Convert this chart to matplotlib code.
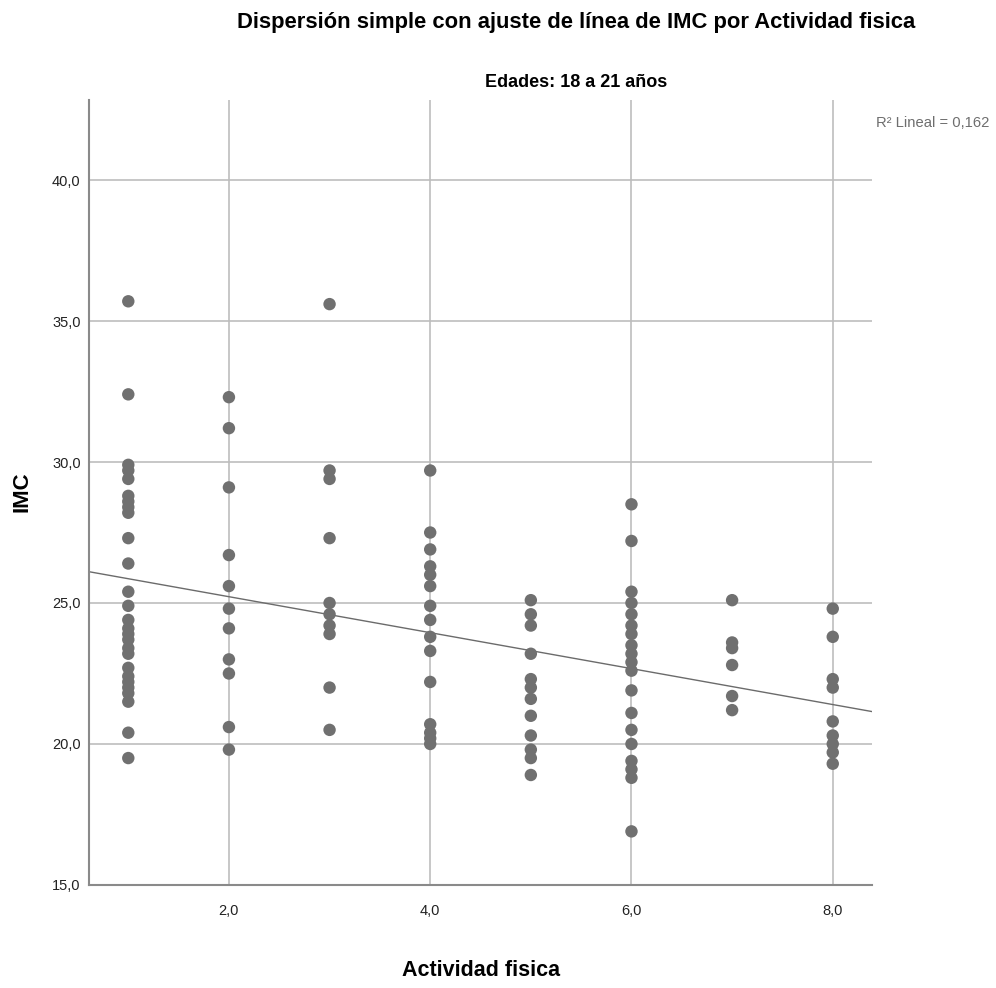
import numpy as np
import matplotlib.pyplot as plt
from matplotlib.ticker import FuncFormatter

# IMC values, one list per activity level
imc_1 = [35.7, 32.4, 29.9, 29.7, 29.4, 28.8, 28.6, 28.4, 28.2, 27.3, 26.4, 25.4, 24.9,
         24.4, 24.1, 23.9, 23.7, 23.4, 23.2, 22.7, 22.4, 22.2, 22.0, 21.8, 21.5, 20.4, 19.5]
imc_2 = [32.3, 31.2, 29.1, 26.7, 25.6, 24.8, 24.1, 23.0, 22.5, 20.6, 19.8]
imc_3 = [35.6, 29.7, 29.4, 27.3, 25.0, 24.6, 24.2, 23.9, 22.0, 20.5]
imc_4 = [29.7, 27.5, 26.9, 26.3, 26.0, 25.6, 24.9, 24.4, 23.8, 23.3, 22.2, 20.7, 20.4, 20.2, 20.0]
imc_5 = [25.1, 24.6, 24.2, 23.2, 22.3, 22.0, 21.6, 21.0, 20.3, 19.8, 19.5, 18.9]
imc_6 = [28.5, 27.2, 25.4, 25.0, 24.6, 24.2, 23.9, 23.5, 23.2, 22.9, 22.6, 21.9, 21.1,
         20.5, 20.0, 19.4, 19.1, 18.8, 16.9]
imc_7 = [25.1, 23.6, 23.4, 22.8, 21.7, 21.2]
imc_8 = [24.8, 23.8, 22.3, 22.0, 20.8, 20.3, 20.0, 19.7, 19.3]
groups = [imc_1, imc_2, imc_3, imc_4, imc_5, imc_6, imc_7, imc_8]
actividad = [1, 2, 3, 4, 5, 6, 7, 8]

r2_text = "R² Lineal = 0,162"

x = np.concatenate([[a] * len(g) for a, g in zip(actividad, groups)])
y = np.concatenate(groups)

plt.rcParams['font.family'] = ['Liberation Sans', 'DejaVu Sans']

fig = plt.figure(figsize=(9.96, 9.88), dpi=100)
ax = fig.add_axes([0.0894, 0.1043, 0.7861, 0.7945])

ax.set_xlim(0.61, 8.39)
ax.set_ylim(15, 42.84)

ax.scatter(x, y, s=80, color='#707070', edgecolors='none', zorder=3)

# linear fit
b, a = np.polyfit(x, y, 1)
xs = np.array(ax.get_xlim())
ax.plot(xs, a + b * xs, color='#6b6b6b', lw=1.0, zorder=2)

ax.set_xticks([2, 4, 6, 8])
ax.set_yticks([15, 20, 25, 30, 35, 40])
fmt = FuncFormatter(lambda v, p: f"{v:.1f}".replace('.', ','))
ax.xaxis.set_major_formatter(fmt)
ax.yaxis.set_major_formatter(fmt)
ax.tick_params(length=0, labelsize=10.5, colors='#222222')
ax.tick_params(axis='y', pad=6)
ax.tick_params(axis='x', pad=14)

ax.grid(True, color='#bdbdbd', lw=1.2, zorder=0)
for side in ['top', 'right']:
    ax.spines[side].set_visible(False)
for side in ['left', 'bottom']:
    ax.spines[side].set_color('#8a8a8a')
    ax.spines[side].set_linewidth(1.5)

fig.text(0.578, 0.977, "Dispersión simple con ajuste de línea de IMC por Actividad fisica",
         ha='center', va='center', fontsize=15.8, fontweight='bold')
fig.text(0.578, 0.917, "Edades: 18 a 21 años", ha='center', va='center',
         fontsize=13, fontweight='bold')
fig.text(0.483, 0.018, "Actividad fisica", ha='center', va='center',
         fontsize=15.5, fontweight='bold')
fig.text(0.022, 0.502, "IMC", ha='center', va='center', rotation=90,
         fontsize=16, fontweight='bold')
fig.text(0.993, 0.876, r2_text, ha='right', va='center', fontsize=10.6, color='#6e6e6e')

fig.savefig('out.png', dpi=100)
